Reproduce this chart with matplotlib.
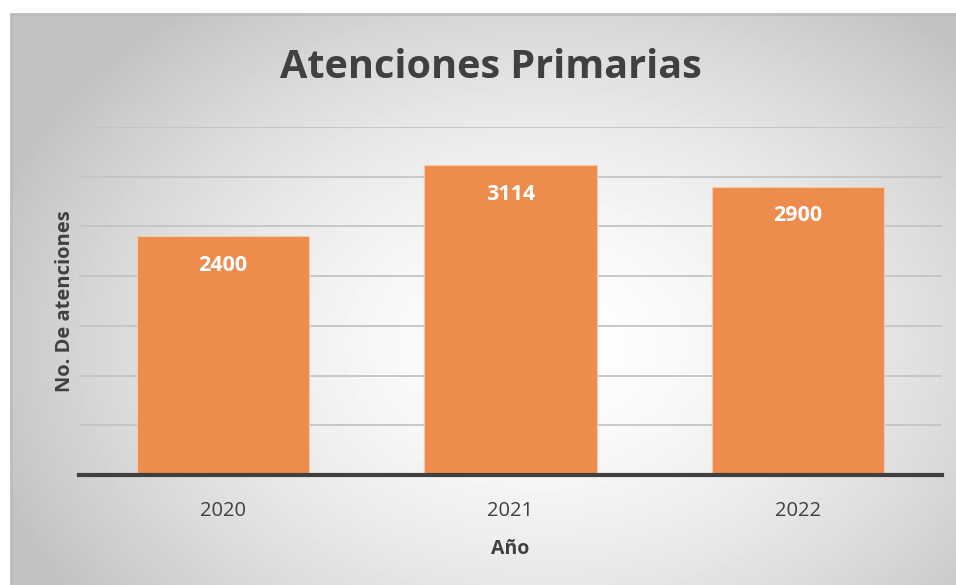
import numpy as np
import matplotlib.pyplot as plt

years = ['2020', '2021', '2022']
atenciones = [2400, 3114, 2900]

W, H = 956, 585
fig = plt.figure(figsize=(W / 100, H / 100), dpi=100)

# fondo con degradado radial (blanco al centro, gris en los bordes)
bg = fig.add_axes([11 / W, 0, 1 - 11 / W, 1 - 14 / H])
yy, xx = np.mgrid[0:571, 0:945]
cx, cy = 530, 330
r = np.sqrt(((xx - cx) / 580.0) ** 2 + ((yy - cy) / 430.0) ** 2)
r = np.clip(r, 0, 1)
shade = 1.0 - 0.24 * r ** 1.6
bg.imshow(shade, cmap='gray', vmin=0, vmax=1, aspect='auto', interpolation='bilinear')
bg.set_xticks([])
bg.set_yticks([])
for s in bg.spines.values():
    s.set_visible(False)
bg.spines['top'].set_visible(True)
bg.spines['left'].set_visible(True)
bg.spines['top'].set_color('#bcbcbc')
bg.spines['left'].set_color('#bcbcbc')
bg.spines['top'].set_linewidth(2)
bg.spines['left'].set_linewidth(2)

# area del grafico
left, right, top, bottom = 79, 942, 127, 475
ax = fig.add_axes([left / W, 1 - bottom / H, (right - left) / W, (bottom - top) / H])
ax.patch.set_alpha(0)
x = np.arange(len(years))
bars = ax.bar(x, atenciones, width=0.6, color='#ed8c4d', edgecolor='#f6c9a8', linewidth=0.8, zorder=3)
ax.set_xlim(-0.5, 2.5)
ax.set_ylim(0, 3500)
ax.set_yticks(np.arange(500, 3501, 500))
ax.yaxis.grid(True, color='#c4c4c4', linewidth=1.3, zorder=0)
ax.tick_params(axis='y', length=0, labelleft=False)
ax.tick_params(axis='x', length=0, pad=19, labelsize=14.5, labelcolor='#404040')
ax.set_xticks(x)
ax.set_xticklabels(years, family='Open Sans')
for s in ['top', 'right', 'left']:
    ax.spines[s].set_visible(False)
ax.spines['bottom'].set_color('#404040')
ax.spines['bottom'].set_linewidth(3)
ax.spines['bottom'].set_zorder(4)

for b, v in zip(bars, atenciones):
    ax.text(b.get_x() + b.get_width() / 2, v - 290, str(v), ha='center', va='center',
            color='white', fontsize=15.5, fontweight='bold', family='Open Sans', zorder=5)

ax.set_xlabel('Año', fontsize=14, fontweight='bold', color='#404040', family='Open Sans', labelpad=13)
ax.set_ylabel('No. De atenciones', fontsize=14.5, fontweight='bold', color='#404040', family='Open Sans', labelpad=3)

fig.text(491 / W, 1 - 68 / H, 'Atenciones Primarias', ha='center', va='center',
         fontsize=28.5, fontweight='bold', color='#404040', family='Open Sans')

fig.savefig('out.png', dpi=100)
